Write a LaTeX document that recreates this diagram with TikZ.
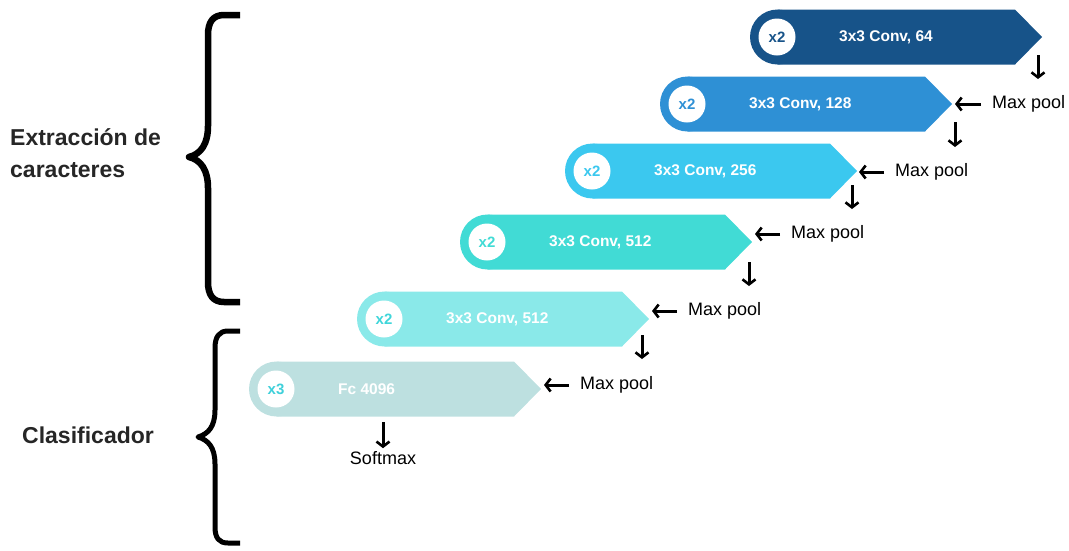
\documentclass[tikz,border=0pt]{standalone}
\usepackage{fontspec}
\setmainfont{Liberation Sans}
\usetikzlibrary{arrows.meta}

\definecolor{blockA}{HTML}{175389}
\definecolor{blockB}{HTML}{2E90D5}
\definecolor{blockC}{HTML}{3BC8EF}
\definecolor{blockD}{HTML}{41DBD5}
\definecolor{blockE}{HTML}{8AE9E9}
\definecolor{blockF}{HTML}{BDE0E0}
\definecolor{badgeE}{HTML}{3FD6DA}
\definecolor{badgeF}{HTML}{3FD0DA}

% one pill-shaped stage: #1 name, #2 left x, #3 centre y, #4 fill, #5 badge text colour, #6 badge, #7 label
\newcommand\convblock[7]{%
  \fill[#4] (#2+27.5,#3) circle[radius=27.5];
  \fill[#4] (#2+27.5,#3-27.5) -- (#2+265,#3-27.5) -- (#2+292,#3) -- (#2+265,#3+27.5) -- (#2+27.5,#3+27.5) -- cycle;
  \node[badge, text=#5] (#1x) at (#2+27,#3) {#6};
  \node[lab] (#1t) at (#2+89,#3) {#7};
  \coordinate (#1tip) at (#2+292,#3);
}

\begin{document}
\begin{tikzpicture}[x=1pt,y=-1pt,
  arr/.style={line width=3pt, -{Straight Barb[length=5pt,width=13pt,line width=2.6pt]}},
  pool/.style={font=\fontsize{18}{20}\selectfont, inner xsep=11pt, inner ysep=0pt, anchor=west},
  lab/.style={font=\fontsize{15.5}{18}\selectfont\bfseries, text=white, anchor=west, inner sep=0pt},
  badge/.style={circle, fill=white, minimum size=37pt, inner sep=0pt, font=\fontsize{15}{18}\selectfont\bfseries},
  side/.style={font=\fontsize{23}{32}\selectfont\bfseries, text=black!85, align=left, anchor=west, inner sep=0pt},
  brace/.style={line width=#1, line join=round, line cap=butt}
]
\useasboundingbox (0,0) rectangle (1069,550);

% stages
\convblock{b1}{750}{37}{blockA}{blockA}{x2}{3x3 Conv, 64}
\convblock{b2}{660}{104}{blockB}{blockB}{x2}{3x3 Conv, 128}
\convblock{b3}{565}{171}{blockC}{blockC}{x2}{3x3 Conv, 256}
\convblock{b4}{460}{242}{blockD}{blockD}{x2}{3x3 Conv, 512}
\convblock{b5}{357}{319}{blockE}{badgeE}{x2}{3x3 Conv, 512}
\convblock{b6}{249}{389}{blockF}{badgeF}{x3}{Fc 4096}

% downward arrows below each stage
\coordinate (d1s) at (1038,55);  \coordinate (d1e) at (1038,79);
\coordinate (d2s) at (955,122);  \coordinate (d2e) at (955,147);
\coordinate (d3s) at (852,185);  \coordinate (d3e) at (852,209);
\coordinate (d4s) at (749,262);  \coordinate (d4e) at (749,286);
\coordinate (d5s) at (642,335);  \coordinate (d5e) at (642,359);
\coordinate (d6s) at (383,422);
\draw[arr] (d1s) -- (d1e);
\draw[arr] (d2s) -- (d2e);
\draw[arr] (d3s) -- (d3e);
\draw[arr] (d4s) -- (d4e);
\draw[arr] (d5s) -- (d5e);

\node[font=\fontsize{18}{20}\selectfont, inner sep=0pt] (soft) at (383,458) {Softmax};
\draw[arr] (d6s) -- ([yshift=3pt]soft.north);

% max pool inputs
\node[pool] (mp1) at (981,104) {Max pool};
\node[pool] (mp2) at (884,172) {Max pool};
\node[pool] (mp3) at (780,234) {Max pool};
\node[pool] (mp4) at (677,311) {Max pool};
\node[pool] (mp5) at (569,385) {Max pool};
\coordinate (m1e) at (955,104);
\coordinate (m2e) at (859,172);
\coordinate (m3e) at (755,234);
\coordinate (m4e) at (652,311);
\coordinate (m5e) at (544,385);
\draw[arr] (mp1.west) -- (m1e);
\draw[arr] (mp2.west) -- (m2e);
\draw[arr] (mp3.west) -- (m3e);
\draw[arr] (mp4.west) -- (m4e);
\draw[arr] (mp5.west) -- (m5e);

% braces and their captions
\draw[brace=6.5pt] (240,15) -- (224,15) .. controls (213,15) and (208,22) .. (208,35) -- (208,126)
  .. controls (208,144) and (201,154) .. (189,157)
  .. controls (201,160) and (208,170) .. (208,188) -- (208,282)
  .. controls (208,295) and (213,302) .. (224,302) -- (240,302);
\draw[brace=5pt] (240,331) -- (228,331) .. controls (219,331) and (215,337) .. (215,348) -- (215,410)
  .. controls (215,427) and (208,434) .. (198,437)
  .. controls (208,440) and (215,447) .. (215,464) -- (215,527)
  .. controls (215,538) and (219,543) .. (228,543) -- (240,543);

\node[side] (feat) at (10,153) {Extracción de\\caracteres};
\node[side] (clf) at (22,435) {Clasificador};
\end{tikzpicture}
\end{document}
